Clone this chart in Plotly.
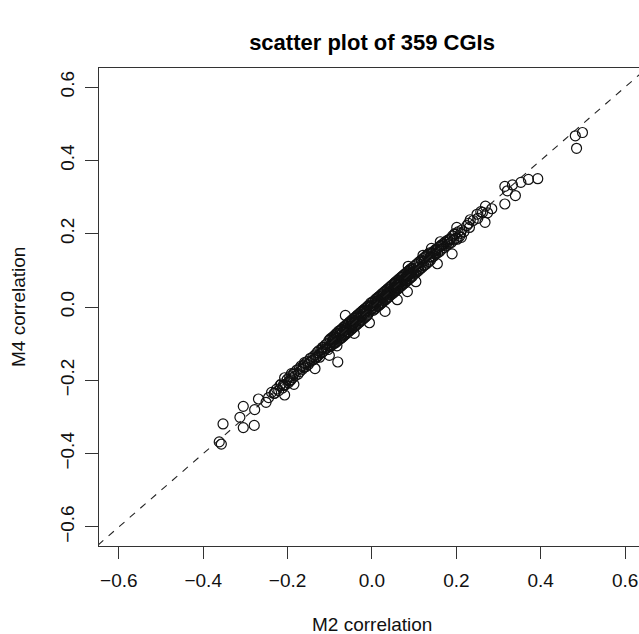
import plotly.graph_objects as go

title_text = "scatter plot of 359 CGIs"
x_label = "M2 correlation"
y_label = "M4 correlation"
tick_vals = [-0.6, -0.4, -0.2, 0.0, 0.2, 0.4, 0.6]
tick_text = ["\u22120.6", "\u22120.4", "\u22120.2", "0.0", "0.2", "0.4", "0.6"]

# outlying points
m2_out = [0.482, 0.499, 0.485, 0.393, 0.371, 0.353, 0.333, 0.315, 0.321, 0.340,
          0.315, 0.269, 0.284, 0.274, 0.249, 0.251, 0.268, 0.229, 0.231, 0.201,
          0.212, 0.202, 0.178, 0.162, 0.190, 0.155, 0.141, 0.121, 0.086, 0.104,
          0.084, 0.060, 0.054, 0.031, -0.003, -0.006, -0.063, -0.042, -0.081, -0.083,
          -0.101, -0.091, -0.135, -0.124, -0.158, -0.185, -0.207, -0.191, -0.207, -0.210,
          -0.230, -0.251, -0.269, -0.278, -0.305, -0.313, -0.305, -0.279, -0.353, -0.362,
          -0.357]
m4_out = [0.467, 0.476, 0.433, 0.350, 0.348, 0.340, 0.333, 0.329, 0.317, 0.304,
          0.281, 0.275, 0.268, 0.257, 0.253, 0.242, 0.231, 0.228, 0.217, 0.217,
          0.190, 0.185, 0.181, 0.178, 0.145, 0.118, 0.160, 0.141, 0.111, 0.069,
          0.042, 0.020, 0.062, -0.012, 0.011, -0.043, -0.023, -0.072, -0.150, -0.106,
          -0.132, -0.088, -0.168, -0.137, -0.155, -0.211, -0.193, -0.182, -0.240, -0.213,
          -0.235, -0.260, -0.251, -0.280, -0.271, -0.301, -0.329, -0.323, -0.319, -0.368,
          -0.374]

# dense band, negative side
m2_neg = [-0.221, -0.215, -0.212, -0.205, -0.201, -0.198, -0.195, -0.192, -0.188, -0.185,
          -0.182, -0.178, -0.175, -0.171, -0.168, -0.165, -0.162, -0.160, -0.157, -0.154,
          -0.151, -0.148, -0.146, -0.143, -0.140, -0.138, -0.135, -0.133, -0.130, -0.128,
          -0.126, -0.124, -0.121, -0.119, -0.117, -0.115, -0.112, -0.110, -0.108, -0.106,
          -0.104, -0.102, -0.100, -0.099, -0.097, -0.095, -0.094, -0.092, -0.090, -0.089,
          -0.087, -0.085, -0.084, -0.082, -0.080, -0.079, -0.077, -0.075, -0.074, -0.072,
          -0.071, -0.069, -0.067, -0.066, -0.064, -0.063, -0.061, -0.059, -0.058, -0.056,
          -0.055, -0.053, -0.051, -0.050, -0.048, -0.047, -0.045, -0.043, -0.042, -0.040,
          -0.039, -0.037, -0.035, -0.034, -0.032, -0.031, -0.029, -0.027, -0.026, -0.024,
          -0.023, -0.021, -0.019, -0.018, -0.016, -0.015, -0.013, -0.011, -0.010, -0.008,
          -0.007, -0.005, -0.003, -0.002, 0.000, -0.060, -0.045, -0.030, -0.085, -0.070,
          -0.095, -0.050, -0.020, -0.065, -0.038, -0.012, -0.078, -0.027, -0.054, -0.091,
          -0.245, -0.238, -0.232, -0.226, -0.218, -0.209, -0.196, -0.186, -0.172, -0.163,
          -0.016, -0.033, -0.049, -0.062, -0.076, -0.088, -0.101, -0.116, -0.131]
m4_neg = [-0.228, -0.210, -0.221, -0.212, -0.198, -0.207, -0.190, -0.199, -0.193, -0.180,
          -0.188, -0.172, -0.183, -0.176, -0.161, -0.170, -0.165, -0.152, -0.163, -0.149,
          -0.157, -0.151, -0.140, -0.147, -0.136, -0.143, -0.131, -0.139, -0.124, -0.134,
          -0.119, -0.128, -0.117, -0.125, -0.110, -0.121, -0.114, -0.103, -0.113, -0.100,
          -0.116, -0.091, -0.108, -0.087, -0.106, -0.084, -0.103, -0.081, -0.099, -0.078,
          -0.098, -0.073, -0.095, -0.071, -0.091, -0.066, -0.088, -0.063, -0.086, -0.061,
          -0.083, -0.057, -0.079, -0.054, -0.076, -0.051, -0.073, -0.047, -0.070, -0.044,
          -0.067, -0.041, -0.063, -0.038, -0.060, -0.035, -0.057, -0.031, -0.054, -0.029,
          -0.051, -0.025, -0.047, -0.022, -0.044, -0.019, -0.041, -0.015, -0.038, -0.012,
          -0.035, -0.009, -0.031, -0.006, -0.028, -0.003, -0.025, 0.001, -0.022, 0.004,
          -0.012, -0.001, -0.008, 0.003, -0.004, -0.058, -0.044, -0.031, -0.086, -0.069,
          -0.095, -0.052, -0.019, -0.064, -0.039, -0.011, -0.078, -0.026, -0.055, -0.090,
          -0.247, -0.233, -0.236, -0.224, -0.214, -0.214, -0.201, -0.184, -0.168, -0.160,
          -0.011, -0.028, -0.044, -0.067, -0.071, -0.083, -0.106, -0.111, -0.136]

# dense band, positive side
m2_pos = [0.001, 0.003, 0.004, 0.006, 0.008, 0.009, 0.011, 0.013, 0.014, 0.016,
          0.017, 0.019, 0.021, 0.022, 0.024, 0.025, 0.027, 0.029, 0.030, 0.032,
          0.033, 0.035, 0.037, 0.038, 0.040, 0.041, 0.043, 0.045, 0.046, 0.048,
          0.049, 0.051, 0.053, 0.054, 0.056, 0.057, 0.059, 0.061, 0.062, 0.064,
          0.065, 0.067, 0.069, 0.070, 0.072, 0.073, 0.075, 0.077, 0.078, 0.080,
          0.081, 0.083, 0.085, 0.086, 0.088, 0.089, 0.091, 0.093, 0.094, 0.096,
          0.097, 0.099, 0.010, 0.020, 0.028, 0.036, 0.044, 0.052, 0.060, 0.068,
          0.076, 0.084, 0.092, 0.005, 0.015, 0.025, 0.035, 0.047, 0.058, 0.071,
          0.082, 0.095, 0.039, 0.063, 0.087,
          0.101, 0.103, 0.105, 0.107, 0.109, 0.111, 0.113, 0.115, 0.117, 0.119,
          0.121, 0.123, 0.125, 0.127, 0.129, 0.131, 0.133, 0.135, 0.137, 0.139,
          0.141, 0.143, 0.145, 0.147, 0.149, 0.151, 0.153, 0.156, 0.158, 0.161,
          0.163, 0.166, 0.168, 0.171, 0.173, 0.176, 0.179, 0.182, 0.185, 0.188,
          0.191, 0.194, 0.197, 0.200, 0.204, 0.208, 0.213, 0.218, 0.110, 0.124,
          0.138, 0.152, 0.170, 0.186,
          0.225, 0.233, 0.240, 0.258, 0.262, 0.210, 0.196, 0.178, 0.164, 0.150,
          -0.004, 0.012, 0.026, 0.042, 0.055, 0.066, 0.079, 0.090, 0.104, 0.118]
m4_pos = [0.013, -0.009, 0.016, -0.006, 0.020, -0.003, 0.023, 0.001, 0.026, 0.004,
          0.029, 0.007, 0.033, 0.010, 0.036, 0.013, 0.039, 0.017, 0.042, 0.020,
          0.045, 0.023, 0.049, 0.026, 0.052, 0.029, 0.055, 0.033, 0.058, 0.036,
          0.061, 0.039, 0.065, 0.042, 0.068, 0.045, 0.071, 0.049, 0.074, 0.052,
          0.077, 0.055, 0.081, 0.058, 0.084, 0.061, 0.087, 0.065, 0.090, 0.068,
          0.093, 0.071, 0.097, 0.074, 0.100, 0.077, 0.103, 0.081, 0.106, 0.084,
          0.102, 0.094, 0.010, 0.021, 0.027, 0.037, 0.043, 0.053, 0.059, 0.069,
          0.075, 0.085, 0.091, 0.004, 0.016, 0.024, 0.036, 0.046, 0.059, 0.070,
          0.083, 0.094, 0.040, 0.062, 0.088,
          0.112, 0.092, 0.116, 0.096, 0.120, 0.100, 0.124, 0.104, 0.128, 0.108,
          0.132, 0.113, 0.136, 0.116, 0.140, 0.120, 0.144, 0.124, 0.148, 0.128,
          0.147, 0.136, 0.150, 0.139, 0.155, 0.144, 0.158, 0.148, 0.163, 0.152,
          0.168, 0.158, 0.172, 0.162, 0.177, 0.167, 0.181, 0.172, 0.186, 0.176,
          0.194, 0.183, 0.198, 0.188, 0.205, 0.193, 0.210, 0.205, 0.109, 0.125,
          0.137, 0.153, 0.169, 0.185,
          0.222, 0.238, 0.236, 0.260, 0.258, 0.201, 0.200, 0.176, 0.166, 0.146,
          0.002, 0.017, 0.031, 0.047, 0.050, 0.071, 0.074, 0.095, 0.099, 0.123]

m2 = m2_neg + m2_pos + m2_out
m4 = m4_neg + m4_pos + m4_out

diag = [-1.0, 1.0]

FONT = "Liberation Sans, Arial, Helvetica, sans-serif"

fig = go.Figure()
fig.add_trace(go.Scatter(
    x=m2, y=m4, mode="markers",
    marker=dict(symbol="circle-open", size=10, color="#111",
                line=dict(width=1.2, color="#111")),
    hoverinfo="x+y", showlegend=False))
fig.add_trace(go.Scatter(
    x=diag, y=diag, mode="lines",
    line=dict(color="#222", width=1.1, dash="7px,7px"),
    hoverinfo="skip", showlegend=False))

fig.update_layout(
    width=639, height=634,
    margin=dict(l=99, r=0, t=68, b=88),
    paper_bgcolor="white", plot_bgcolor="white",
    font=dict(family=FONT, color="black", size=19),
    title=dict(text="<b>" + title_text + "</b>", x=372 / 639, xref="container",
               xanchor="center", y=1 - 42 / 634, yref="container", yanchor="middle",
               font=dict(size=22, family=FONT, color="black")),
    xaxis=dict(range=[-0.647, 0.633], tickvals=tick_vals, ticktext=tick_text,
               ticks="outside", ticklen=12, tickwidth=1, tickcolor="#333",
               showgrid=False, zeroline=False, showline=True, mirror=True,
               linecolor="#333", linewidth=1, ticklabelstandoff=5,
               tickfont=dict(size=19, family=FONT, color="#111")),
    yaxis=dict(range=[-0.652, 0.652], tickvals=tick_vals, ticktext=tick_text,
               ticks="outside", ticklen=13, tickwidth=1, tickcolor="#333",
               showgrid=False, zeroline=False, showline=True, mirror=False,
               linecolor="#333", linewidth=1, tickangle=-90, ticklabelstandoff=3,
               tickfont=dict(size=19, family=FONT, color="#111")),
    annotations=[
        dict(text=x_label, x=(372 - 99) / 540, y=(546 - 624) / 478, xref="paper",
             yref="paper", showarrow=False, xanchor="center", yanchor="middle",
             font=dict(size=19, family=FONT, color="#111")),
        dict(text=y_label, x=(18 - 99) / 540, y=0.5, xref="paper", yref="paper",
             showarrow=False, xanchor="center", yanchor="middle", textangle=-90,
             font=dict(size=19, family=FONT, color="#111")),
    ],
)

fig.write_html("out.html")
